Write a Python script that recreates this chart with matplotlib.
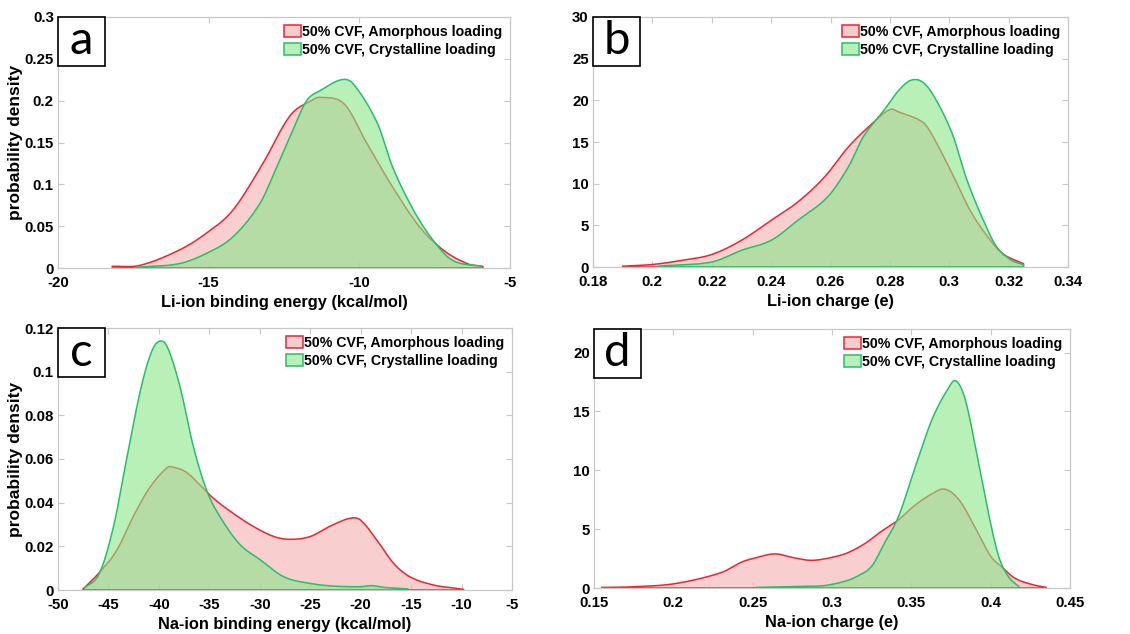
import numpy as np
import matplotlib
matplotlib.use("Agg")
import matplotlib.pyplot as plt
from matplotlib.patches import Patch, Rectangle

plt.rcParams['font.family'] = ['Liberation Sans', 'DejaVu Sans']

lab_am = '50% CVF, Amorphous loading'
lab_cr = '50% CVF, Crystalline loading'

# (a) Li-ion binding energy
a_am_x = [-18.2, -17.3, -16.0, -15.1, -14.2, -13.2, -12.3, -11.6, -11.3, -10.5, -9.75, -8.9, -8.0, -7.2, -6.4, -5.9]
a_am_y = [0.002, 0.003, 0.021, 0.041, 0.069, 0.125, 0.182, 0.200, 0.204, 0.196, 0.149, 0.097, 0.049, 0.021, 0.005, 0.002]
a_cr_x = [-17.35, -16.0, -15.1, -14.2, -13.3, -12.75, -12.2, -11.75, -11.3, -10.6, -10.2, -9.4, -8.9, -8.2, -7.55, -6.9, -5.95]
a_cr_y = [0.001, 0.005, 0.017, 0.037, 0.077, 0.120, 0.165, 0.200, 0.212, 0.225, 0.220, 0.173, 0.121, 0.069, 0.033, 0.009, 0.002]

# (b) Li-ion charge
b_am_x = [0.19, 0.20, 0.21, 0.22, 0.23, 0.24, 0.249, 0.258, 0.266, 0.274, 0.280, 0.283, 0.291, 0.294, 0.301, 0.307, 0.313, 0.318, 0.325]
b_am_y = [0.1, 0.3, 0.8, 1.5, 3.2, 5.6, 7.8, 10.8, 14.4, 17.2, 18.9, 18.6, 17.4, 16.0, 11.2, 6.8, 3.6, 1.6, 0.4]
b_cr_x = [0.202, 0.22, 0.23, 0.24, 0.249, 0.259, 0.266, 0.271, 0.278, 0.283, 0.287, 0.291, 0.295, 0.301, 0.306, 0.312, 0.316, 0.321, 0.325]
b_cr_y = [0.1, 0.6, 2.0, 3.2, 5.6, 8.4, 12.0, 15.6, 18.8, 21.2, 22.4, 22.2, 20.4, 16.0, 10.4, 5.2, 2.4, 0.8, 0.3]

# (c) Na-ion binding energy
c_am_x = [-47.5, -45.9, -44.2, -42.5, -40.9, -39.2, -38.6, -37.3, -35.9, -34.6, -32.6, -30.6, -28.6, -27.0, -25.0, -23.0, -21.0, -20.0, -18.4, -16.7, -15.1, -12.8, -10.6, -9.8]
c_am_y = [0.0005, 0.008, 0.018, 0.034, 0.047, 0.056, 0.0563, 0.054, 0.048, 0.042, 0.035, 0.029, 0.0245, 0.0232, 0.0245, 0.0293, 0.0329, 0.032, 0.0229, 0.012, 0.006, 0.0023, 0.0008, 0.0003]
c_cr_x = [-47.35, -45.9, -44.5, -43.2, -41.9, -40.9, -40.1, -39.2, -37.9, -36.6, -35.3, -34.0, -32.0, -30.0, -27.6, -25.0, -22.7, -20.0, -18.9, -17.7, -15.3]
c_cr_y = [0.001, 0.0076, 0.029, 0.060, 0.090, 0.107, 0.1136, 0.1116, 0.093, 0.066, 0.046, 0.034, 0.021, 0.014, 0.006, 0.003, 0.0018, 0.0015, 0.002, 0.0012, 0.0005]

# (d) Na-ion charge
d_am_x = [0.155, 0.174, 0.201, 0.23, 0.243, 0.253, 0.264, 0.275, 0.287, 0.30, 0.31, 0.321, 0.331, 0.342, 0.352, 0.363, 0.371, 0.38, 0.39, 0.40, 0.407, 0.415, 0.426, 0.435]
d_am_y = [0.05, 0.1, 0.37, 1.3, 2.2, 2.6, 2.9, 2.6, 2.35, 2.6, 3.0, 3.8, 4.8, 5.8, 7.0, 8.0, 8.4, 7.5, 5.2, 2.7, 1.8, 0.85, 0.3, 0.05]
d_cr_x = [0.252, 0.279, 0.295, 0.308, 0.316, 0.325, 0.333, 0.342, 0.352, 0.363, 0.373, 0.378, 0.384, 0.392, 0.399, 0.405, 0.411, 0.418]
d_cr_y = [0.05, 0.14, 0.2, 0.57, 1.0, 1.85, 3.8, 6.1, 10.1, 14.3, 16.9, 17.6, 16.0, 10.9, 6.1, 2.7, 1.0, 0.1]

panels = [
    dict(pos=[58, 17, 510, 268], am=(a_am_x, a_am_y), cr=(a_cr_x, a_cr_y), letter='a',
         xlim=(-20, -5), xt=[-20, -15, -10, -5], ylim=(0, 0.3), yt=[0, 0.05, 0.1, 0.15, 0.2, 0.25, 0.3],
         yl=['0', '0.05', '0.1', '0.15', '0.2', '0.25', '0.3'],
         xlabel='Li-ion binding energy (kcal/mol)', ylabel=True),
    dict(pos=[593, 17, 1068, 267], am=(b_am_x, b_am_y), cr=(b_cr_x, b_cr_y), letter='b',
         xlim=(0.18, 0.34), xt=[0.18, 0.2, 0.22, 0.24, 0.26, 0.28, 0.3, 0.32, 0.34], ylim=(0, 30),
         yt=[0, 5, 10, 15, 20, 25, 30], yl=None,
         xlabel='Li-ion charge (e)', ylabel=False),
    dict(pos=[58, 328, 512, 590], am=(c_am_x, c_am_y), cr=(c_cr_x, c_cr_y), letter='c',
         xlim=(-50, -5), xt=[-50, -45, -40, -35, -30, -25, -20, -15, -10, -5], ylim=(0, 0.12),
         yt=[0, 0.02, 0.04, 0.06, 0.08, 0.1, 0.12], yl=['0', '0.02', '0.04', '0.06', '0.08', '0.1', '0.12'],
         xlabel='Na-ion binding energy (kcal/mol)', ylabel=True),
    dict(pos=[594, 329, 1070, 588], am=(d_am_x, d_am_y), cr=(d_cr_x, d_cr_y), letter='d',
         xlim=(0.15, 0.45), xt=[0.15, 0.2, 0.25, 0.3, 0.35, 0.4, 0.45], ylim=(0, 22),
         yt=[0, 5, 10, 15, 20], yl=None,
         xlabel='Na-ion charge (e)', ylabel=False),
]

W, H = 1130, 634
fig = plt.figure(figsize=(W / 100, H / 100), dpi=100)

red_edge = (0.92, 0.15, 0.2)
red_face = (0.92, 0.3, 0.3)
green_edge = (0.15, 0.75, 0.42)
green_face = (0.54, 0.9, 0.54)


def smooth(x, y, n=300):
    # cubic Hermite curve through the points
    x = np.asarray(x, float)
    y = np.asarray(y, float)
    xs = np.linspace(x[0], x[-1], n)
    m = np.zeros_like(y)
    m[1:-1] = (y[2:] - y[:-2]) / (x[2:] - x[:-2])
    m[0] = (y[1] - y[0]) / (x[1] - x[0])
    m[-1] = (y[-1] - y[-2]) / (x[-1] - x[-2])
    idx = np.clip(np.searchsorted(x, xs) - 1, 0, len(x) - 2)
    h = x[idx + 1] - x[idx]
    t = (xs - x[idx]) / h
    h00 = 2 * t**3 - 3 * t**2 + 1
    h10 = t**3 - 2 * t**2 + t
    h01 = -2 * t**3 + 3 * t**2
    h11 = t**3 - t**2
    ys = h00 * y[idx] + h10 * h * m[idx] + h01 * y[idx + 1] + h11 * h * m[idx + 1]
    return xs, np.clip(ys, 0, None)


for p in panels:
    l, t, r, b = p['pos']
    ax = fig.add_axes([l / W, (H - b) / H, (r - l) / W, (b - t) / H])
    xa, ya = smooth(*p['am'])
    xc, yc = smooth(*p['cr'])
    ax.fill_between(xa, 0, ya, facecolor=red_face, alpha=0.27, linewidth=0, zorder=1)
    ax.plot(np.r_[xa, xa[::-1]], np.r_[ya, np.zeros_like(ya)], color=red_edge, lw=1.1, zorder=2)
    ax.fill_between(xc, 0, yc, facecolor=green_face, alpha=0.6, linewidth=0, zorder=3)
    ax.plot(np.r_[xc, xc[::-1]], np.r_[yc, np.zeros_like(yc)], color=green_edge, lw=1.1, zorder=4)

    ax.set_xlim(*p['xlim'])
    ax.set_ylim(*p['ylim'])
    ax.set_xticks(p['xt'])
    ax.set_xticklabels([('%g' % v) for v in p['xt']])
    ax.set_yticks(p['yt'])
    if p['yl'] is not None:
        ax.set_yticklabels(p['yl'])
    ax.tick_params(direction='in', length=4, width=0.8, color='#c8c8c8',
                   top=True, right=True, labelsize=10.8)
    ax.tick_params(axis='x', pad=5.5)
    ax.tick_params(axis='y', pad=3)
    for lab in ax.get_xticklabels() + ax.get_yticklabels():
        lab.set_fontweight('bold')
    for s in ax.spines.values():
        s.set_color('#c8c8c8')
        s.set_linewidth(0.9)
    ax.set_xlabel(p['xlabel'], fontsize=11.8, fontweight='bold', labelpad=3.5)
    if p['ylabel']:
        ax.set_ylabel('probability density', fontsize=12.5, fontweight='bold', labelpad=1)

    handles = [Patch(facecolor=(0.96, 0.8, 0.8), edgecolor=red_edge, lw=1.1),
               Patch(facecolor=(0.72, 0.94, 0.72), edgecolor=green_edge, lw=1.1)]
    ax.legend(handles, [lab_am, lab_cr], loc='upper right', frameon=False,
              prop={'weight': 'bold', 'size': 10.2}, handlelength=1.25, handleheight=0.85,
              handletextpad=0.05, labelspacing=0.3, borderaxespad=0.3, borderpad=0.25)

    # panel letter box
    bw = 47 / (r - l)
    bh = 49 / (b - t)
    ax.add_patch(Rectangle((0, 1 - bh), bw, bh, transform=ax.transAxes,
                           facecolor='white', edgecolor='black', lw=1.2, zorder=5, clip_on=False))
    ax.text(bw / 2, 1 - bh / 2, p['letter'], transform=ax.transAxes, ha='center', va='center',
            fontsize=34, family=['Lato', 'DejaVu Sans'], zorder=6)

fig.savefig('out.png', dpi=100)
